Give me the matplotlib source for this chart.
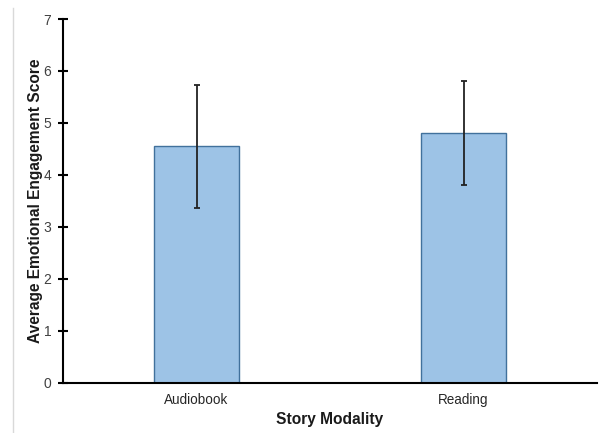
import matplotlib
matplotlib.use("Agg")
import matplotlib.pyplot as plt
from matplotlib.lines import Line2D

categories = ["Audiobook", "Reading"]
means = [4.55, 4.81]
errors = [1.18, 1.00]
y_ticks = [0, 1, 2, 3, 4, 5, 6, 7]

plt.rcParams["font.family"] = ["Liberation Sans", "DejaVu Sans"]

fig = plt.figure(figsize=(6.02, 4.33), dpi=100)
ax = fig.add_axes([63 / 602, 50.5 / 433, 534 / 602, 363.5 / 433])

x = list(range(len(categories)))
ax.bar(x, means, width=0.315, color="#9DC3E6", edgecolor="#41719C", linewidth=1.0,
       zorder=2)
ax.errorbar(x, means, yerr=errors, fmt="none", ecolor="#222222", elinewidth=1.3,
            capsize=2.5, capthick=1.3, zorder=3)

ax.set_xlim(-0.5, 1.5)
ax.set_ylim(0, 7)
ax.set_yticks(y_ticks)
ax.set_xticks(x)
ax.set_xticklabels(categories)

for side in ("top", "right"):
    ax.spines[side].set_visible(False)
ax.spines["left"].set_linewidth(1.5)
ax.spines["bottom"].set_linewidth(1.5)
ax.spines["left"].set_color("black")
ax.spines["bottom"].set_color("black")

ax.tick_params(axis="y", direction="inout", length=7, width=1.5, labelsize=10,
               labelcolor="#404040", pad=5)
ax.tick_params(axis="x", length=0, labelsize=9.75, labelcolor="#262626", pad=7.5)

ax.set_xlabel("Story Modality", fontsize=11.2, fontweight="bold", color="#1a1a1a",
              labelpad=4)
ax.set_ylabel("Average Emotional Engagement Score", fontsize=11.2, fontweight="bold",
              color="#1a1a1a", labelpad=0)

# thin grey frame edge on the left
fig.add_artist(Line2D([13 / 602, 13 / 602], [0, 1 - 8 / 433],
                      transform=fig.transFigure, color="#d9d9d9", linewidth=1.0))

fig.savefig("out.png", dpi=100)
